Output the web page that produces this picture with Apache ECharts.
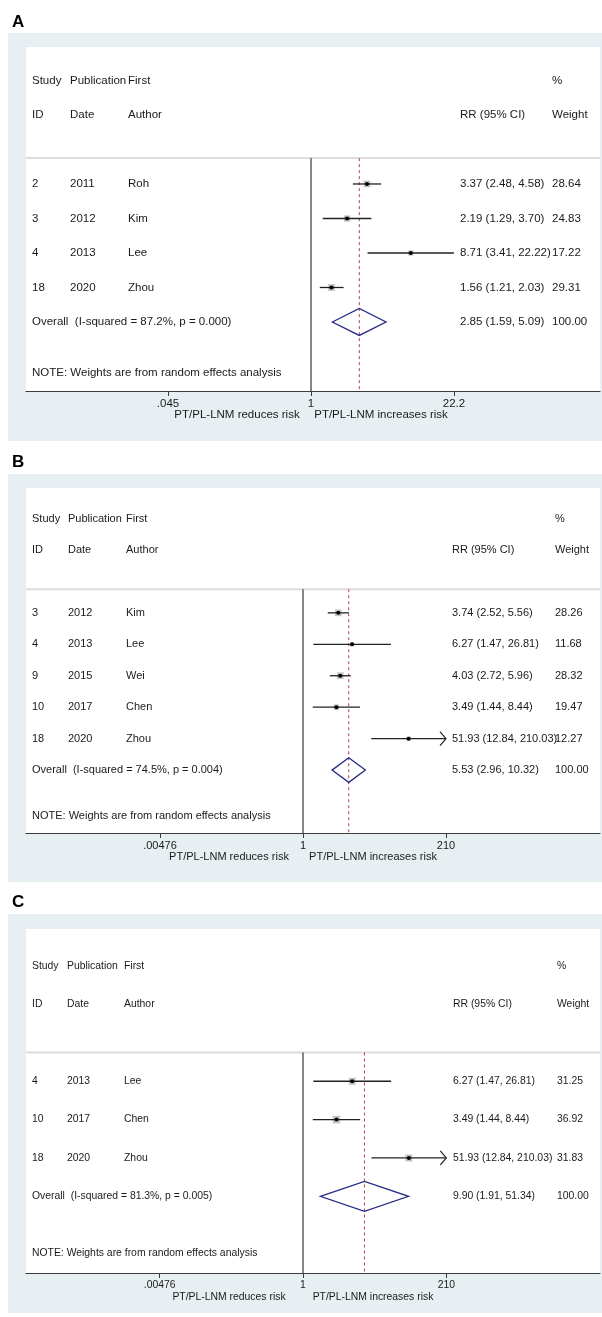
<!DOCTYPE html>
<html><head><meta charset="utf-8">
<script src="https://cdn.jsdelivr.net/npm/echarts@6/dist/echarts.min.js"></script>
<style>html,body{margin:0;padding:0;background:#fff}#c{width:602px;height:1317px}</style>
</head><body><div id="c"></div>
<script>
// ---------- DATA ----------
// Panel A
const A_ids = [2, 3, 4, 18];
const A_years = [2011, 2012, 2013, 2020];
const A_authors = ['Roh', 'Kim', 'Lee', 'Zhou'];
const A_rr = [3.37, 2.19, 8.71, 1.56];
const A_lo = [2.48, 1.29, 3.41, 1.21];
const A_hi = [4.58, 3.70, 22.22, 2.03];
const A_wt = [28.64, 24.83, 17.22, 29.31];
const A_overall = [2.85, 1.59, 5.09];
const A_i2 = '87.2%';
const A_p = '0.000';
const A_ticks = [0.045, 1, 22.22];
const A_tickLabels = ['.045', '1', '22.2'];
// Panel B
const B_ids = [3, 4, 9, 10, 18];
const B_years = [2012, 2013, 2015, 2017, 2020];
const B_authors = ['Kim', 'Lee', 'Wei', 'Chen', 'Zhou'];
const B_rr = [3.74, 6.27, 4.03, 3.49, 51.93];
const B_lo = [2.52, 1.47, 2.72, 1.44, 12.84];
const B_hi = [5.56, 26.81, 5.96, 8.44, 210.03];
const B_wt = [28.26, 11.68, 28.32, 19.47, 12.27];
const B_overall = [5.53, 2.96, 10.32];
const B_i2 = '74.5%';
const B_p = '0.004';
const B_ticks = [0.00476, 1, 210];
const B_tickLabels = ['.00476', '1', '210'];
// Panel C
const C_ids = [4, 10, 18];
const C_years = [2013, 2017, 2020];
const C_authors = ['Lee', 'Chen', 'Zhou'];
const C_rr = [6.27, 3.49, 51.93];
const C_lo = [1.47, 1.44, 12.84];
const C_hi = [26.81, 8.44, 210.03];
const C_wt = [31.25, 36.92, 31.83];
const C_overall = [9.90, 1.91, 51.34];
const C_i2 = '81.3%';
const C_p = '0.005';
const C_ticks = [0.00476, 1, 210];
const C_tickLabels = ['.00476', '1', '210'];

const panelLetters = ['A', 'B', 'C'];
const headers1 = ['Study', 'Publication', 'First', '%'];
const headers2 = ['ID', 'Date', 'Author', 'RR (95% CI)', 'Weight'];
const noteText = 'NOTE: Weights are from random effects analysis';
const leftFavour = 'PT/PL-LNM reduces risk';
const rightFavour = 'PT/PL-LNM increases risk';

// ---------- LAYOUT (pixels) ----------
const FONT = '"Liberation Sans", Arial, Helvetica, sans-serif';
const layout = [
  {labelY: 22, grayTop: 33, grayBottom: 441, whiteTop: 47, axisY: 391, nullX: 311, pxPerLn: 46.1, fs: 11.5,
   cols: {id: 32, date: 70, author: 128, rr: 460, wt: 552}},
  {labelY: 462, grayTop: 474, grayBottom: 882, whiteTop: 488, axisY: 833, nullX: 303, pxPerLn: 26.74, fs: 11,
   cols: {id: 32, date: 68, author: 126, rr: 452, wt: 555}},
  {labelY: 902, grayTop: 914, grayBottom: 1313, whiteTop: 929, axisY: 1273, nullX: 303, pxPerLn: 26.8, fs: 10.4,
   cols: {id: 32, date: 67, author: 124, rr: 453, wt: 557}}
];
const GRID_L = 26, GRID_R = 600;

const panels = [
  {ids: A_ids, years: A_years, authors: A_authors, rr: A_rr, lo: A_lo, hi: A_hi, wt: A_wt, ov: A_overall, i2: A_i2, p: A_p, ticks: A_ticks, tl: A_tickLabels},
  {ids: B_ids, years: B_years, authors: B_authors, rr: B_rr, lo: B_lo, hi: B_hi, wt: B_wt, ov: B_overall, i2: B_i2, p: B_p, ticks: B_ticks, tl: B_tickLabels},
  {ids: C_ids, years: C_years, authors: C_authors, rr: C_rr, lo: C_lo, hi: C_hi, wt: C_wt, ov: C_overall, i2: C_i2, p: C_p, ticks: C_ticks, tl: C_tickLabels}
];

const f2 = v => v.toFixed(2);
const rrText = (e, l, h) => f2(e) + ' (' + f2(l) + ', ' + f2(h) + ')';

const option = {animation: false, grid: [], xAxis: [], yAxis: [], series: [], graphic: []};

panels.forEach((d, k) => {
  const L = layout[k];
  const n = d.ids.length;
  const yMin = -3.97, yMax = n + 2, sepY = -0.75;
  const xMin = (GRID_L - L.nullX) / L.pxPerLn, xMax = (GRID_R - L.nullX) / L.pxPerLn;
  const lnTicks = d.ticks.map(Math.log);
  const tMin = lnTicks[0], tMax = lnTicks[lnTicks.length - 1];

  option.graphic.push(
    {type: 'rect', z: -20, silent: true, shape: {x: 8, y: L.grayTop, width: 600, height: L.grayBottom - L.grayTop}, style: {fill: '#e8eff2'}},
    {type: 'rect', z: -19, silent: true, shape: {x: GRID_L, y: L.whiteTop, width: GRID_R - GRID_L, height: L.axisY - L.whiteTop}, style: {fill: '#ffffff'}},
    {type: 'text', z: 5, x: 12, y: L.labelY, style: {text: panelLetters[k], fill: '#000', font: 'bold 17px ' + FONT, verticalAlign: 'middle', align: 'left'}}
  );

  option.grid.push({left: GRID_L, width: GRID_R - GRID_L, top: L.whiteTop, height: L.axisY - L.whiteTop, show: false});
  option.xAxis.push({
    gridIndex: k, type: 'value', min: xMin, max: xMax, position: 'bottom',
    axisLine: {show: true, onZero: false, lineStyle: {color: '#3a3a3a', width: 1.2}},
    axisTick: {show: true, customValues: lnTicks, length: 5, lineStyle: {color: '#3a3a3a'}},
    axisLabel: {show: true, customValues: lnTicks, margin: 7, fontSize: L.fs, fontFamily: FONT, color: '#1a1a1a',
      formatter: v => { const i = lnTicks.findIndex(t => Math.abs(t - v) < 1e-6); return i >= 0 ? d.tl[i] : ''; }},
    splitLine: {show: false}
  });
  option.yAxis.push({gridIndex: k, type: 'value', min: yMin, max: yMax, inverse: true, show: false, splitLine: {show: false}});

  const lnOv = Math.log(d.ov[0]);
  option.series.push({type: 'line', xAxisIndex: k, yAxisIndex: k, silent: true, symbol: 'none', z: 1,
    data: [[xMin, sepY], [xMax, sepY]], lineStyle: {color: '#dcdcdc', width: 2}});
  option.series.push({type: 'line', xAxisIndex: k, yAxisIndex: k, silent: true, symbol: 'none', z: 2,
    data: [[0, sepY], [0, yMax]], lineStyle: {color: '#111', width: 1}});
  option.series.push({type: 'line', xAxisIndex: k, yAxisIndex: k, silent: true, symbol: 'none', z: 2,
    data: [[lnOv, sepY], [lnOv, yMax]], lineStyle: {color: '#b4424f', width: 1, type: [3, 3]}});

  option.series.push({
    type: 'custom', xAxisIndex: k, yAxisIndex: k, z: 3, silent: true,
    data: d.rr.map((v, i) => [Math.log(v), i, Math.log(d.lo[i]), Math.log(d.hi[i]), d.wt[i]]),
    encode: {x: 0, y: 1},
    renderItem: (params, api) => {
      const y = api.value(1);
      const c = api.coord([api.value(0), y]);
      const lnLo = api.value(2), lnHi = api.value(3), w = api.value(4);
      const xl = api.coord([Math.max(lnLo, tMin), y])[0];
      const xh = api.coord([Math.min(lnHi, tMax), y])[0];
      const s = 1.25 * Math.sqrt(w);
      const ch = [
        {type: 'rect', shape: {x: c[0] - s / 2, y: c[1] - s / 2, width: s, height: s}, style: {fill: '#c4c4c4'}},
        {type: 'line', shape: {x1: xl, y1: c[1], x2: xh, y2: c[1]}, style: {stroke: '#222', lineWidth: 1.3}},
        {type: 'circle', shape: {cx: c[0], cy: c[1], r: 2}, style: {fill: '#000'}}
      ];
      if (lnHi > tMax + 1e-9) ch.push({type: 'polyline', shape: {points: [[xh - 6, c[1] - 7], [xh, c[1]], [xh - 6, c[1] + 7]]}, style: {stroke: '#222', lineWidth: 1.2, fill: 'none'}});
      if (lnLo < tMin - 1e-9) ch.push({type: 'polyline', shape: {points: [[xl + 6, c[1] - 7], [xl, c[1]], [xl + 6, c[1] + 7]]}, style: {stroke: '#222', lineWidth: 1.2, fill: 'none'}});
      return {type: 'group', children: ch};
    }
  });

  option.series.push({
    type: 'custom', xAxisIndex: k, yAxisIndex: k, z: 3, silent: true,
    data: [[lnOv, n, Math.log(d.ov[1]), Math.log(d.ov[2])]],
    encode: {x: 0, y: 1},
    renderItem: (params, api) => {
      const y = api.value(1);
      const c = api.coord([api.value(0), y]);
      const top = api.coord([api.value(0), y - 0.39])[1];
      const bot = api.coord([api.value(0), y + 0.39])[1];
      const xl = api.coord([api.value(2), y])[0], xh = api.coord([api.value(3), y])[0];
      return {type: 'polygon', shape: {points: [[xl, c[1]], [c[0], top], [xh, c[1]], [c[0], bot]]},
        style: {stroke: '#262a85', lineWidth: 1.3, fill: 'none'}};
    }
  });

  const C = L.cols;
  const rows = [];
  rows.push({y: -3, cells: [[C.id, headers1[0]], [C.date, headers1[1]], [C.author, headers1[2]], [C.wt, headers1[3]]]});
  rows.push({y: -2, cells: [[C.id, headers2[0]], [C.date, headers2[1]], [C.author, headers2[2]], [C.rr, headers2[3]], [C.wt, headers2[4]]]});
  d.ids.forEach((id, i) => rows.push({y: i, cells: [[C.id, String(id)], [C.date, String(d.years[i])], [C.author, d.authors[i]],
    [C.rr, rrText(d.rr[i], d.lo[i], d.hi[i])], [C.wt, f2(d.wt[i])]]}));
  rows.push({y: n, cells: [[C.id, 'Overall  (I-squared = ' + d.i2 + ', p = ' + d.p + ')'], [C.rr, rrText(d.ov[0], d.ov[1], d.ov[2])], [C.wt, '100.00']]});
  rows.push({y: n + 1.47, cells: [[C.id, noteText]]});
  option.series.push({
    type: 'custom', xAxisIndex: k, yAxisIndex: k, z: 4, silent: true,
    data: rows.map(r => [0, r.y]),
    encode: {x: 0, y: 1},
    renderItem: (params, api) => {
      const r = rows[params.dataIndex];
      const py = api.coord([0, r.y])[1];
      return {type: 'group', children: r.cells.map(cell => ({
        type: 'text', x: cell[0], y: py,
        style: {text: cell[1], fill: '#1a1a1a', fontSize: L.fs, fontFamily: FONT, align: 'left', verticalAlign: 'middle'}
      }))};
    }
  });
  option.series.push({
    type: 'custom', xAxisIndex: k, yAxisIndex: k, z: 4, silent: true,
    data: [[0, yMax]], encode: {x: 0, y: 1},
    renderItem: (params, api) => {
      const c = api.coord([0, yMax]);
      const py = c[1] + 24;
      return {type: 'group', children: [
        {type: 'text', x: c[0] - 74, y: py, style: {text: leftFavour, fill: '#1a1a1a', fontSize: L.fs, fontFamily: FONT, align: 'center', verticalAlign: 'middle'}},
        {type: 'text', x: c[0] + 70, y: py, style: {text: rightFavour, fill: '#1a1a1a', fontSize: L.fs, fontFamily: FONT, align: 'center', verticalAlign: 'middle'}}
      ]};
    }
  });
});

const chart = echarts.init(document.getElementById('c'), null, {renderer: 'canvas'});
chart.setOption(option);
</script></body></html>
